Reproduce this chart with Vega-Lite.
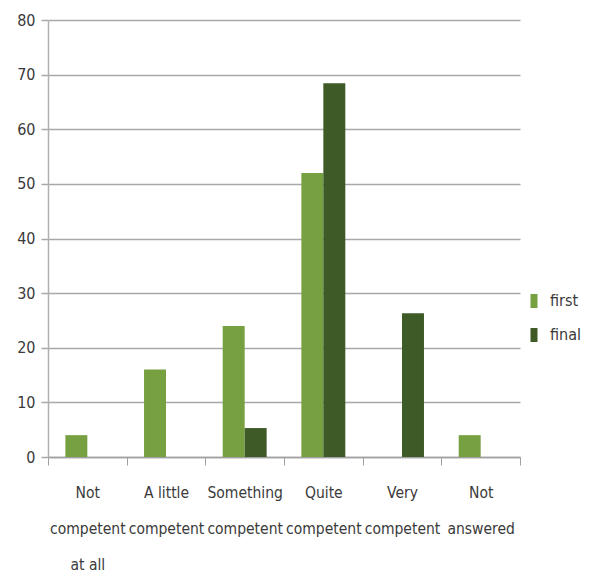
{
  "$schema": "https://vega.github.io/schema/vega-lite/v6.json",
  "width": 472,
  "height": 437,
  "autosize": {"type": "none"},
  "padding": {"left": 48, "top": 20, "right": 74, "bottom": 119},
  "background": "white",
  "config": {
    "view": {"stroke": null},
    "font": "DejaVu Sans Condensed",
    "axis": {"labelFont": "DejaVu Sans Condensed", "labelFontSize": 16, "labelColor": "#3a3a3a"},
    "legend": {"labelFont": "DejaVu Sans Condensed", "labelFontSize": 16, "labelColor": "#3a3a3a"}
  },
  "data": {
    "values": [
      {"category": "Not competent at all", "series": "first", "value": 4},
      {"category": "Not competent at all", "series": "final", "value": 0},
      {"category": "A little competent", "series": "first", "value": 16},
      {"category": "A little competent", "series": "final", "value": 0},
      {"category": "Something competent", "series": "first", "value": 24},
      {"category": "Something competent", "series": "final", "value": 5.3},
      {"category": "Quite competent", "series": "first", "value": 52},
      {"category": "Quite competent", "series": "final", "value": 68.4},
      {"category": "Very competent", "series": "first", "value": 0},
      {"category": "Very competent", "series": "final", "value": 26.3},
      {"category": "Not answered", "series": "first", "value": 4},
      {"category": "Not answered", "series": "final", "value": 0}
    ]
  },
  "mark": {"type": "bar"},
  "encoding": {
    "x": {
      "field": "category",
      "type": "nominal",
      "sort": null,
      "scale": {"paddingInner": 0, "paddingOuter": 0},
      "axis": {
        "title": null,
        "labelAngle": 0,
        "labelFontSize": 15.5,
        "tickBand": "extent",
        "tickSize": 8,
        "tickColor": "#a0a0a0",
        "domainColor": "#a0a0a0",
        "domainWidth": 1.5,
        "labelPadding": 20,
        "labelLineHeight": 36,
        "labelExpr": "datum.value == 'Not competent at all' ? ['Not','competent','at all'] : datum.value == 'A little competent' ? ['A little','competent'] : datum.value == 'Something competent' ? ['Something','competent'] : datum.value == 'Quite competent' ? ['Quite','competent'] : datum.value == 'Very competent' ? ['Very','competent'] : datum.value == 'Not answered' ? ['Not','answered'] : ''"
      }
    },
    "xOffset": {"field": "series", "type": "nominal", "sort": ["first", "final"], "scale": {"paddingInner": 0, "paddingOuter": 0.79}},
    "y": {
      "field": "value",
      "type": "quantitative",
      "scale": {"domain": [0, 80]},
      "axis": {
        "title": null,
        "values": [0, 10, 20, 30, 40, 50, 60, 70, 80],
        "gridColor": "#a8a8a8",
        "gridWidth": 1.5,
        "tickColor": "#a8a8a8",
        "tickWidth": 1.5,
        "tickSize": 7,
        "domainColor": "#b0b0b0",
        "domainWidth": 1.5,
        "labelPadding": 6
      }
    },
    "color": {
      "field": "series",
      "type": "nominal",
      "sort": ["first", "final"],
      "scale": {"domain": ["first", "final"], "range": ["#77a141", "#3d5a27"]},
      "legend": {
        "title": null,
        "orient": "none",
        "legendX": 478,
        "legendY": 273,
        "symbolType": "M-0.5,-1H0.5V1H-0.5Z",
        "symbolSize": 196,
        "symbolStrokeWidth": 0,
        "rowPadding": 18,
        "labelOffset": 8
      }
    }
  }
}
